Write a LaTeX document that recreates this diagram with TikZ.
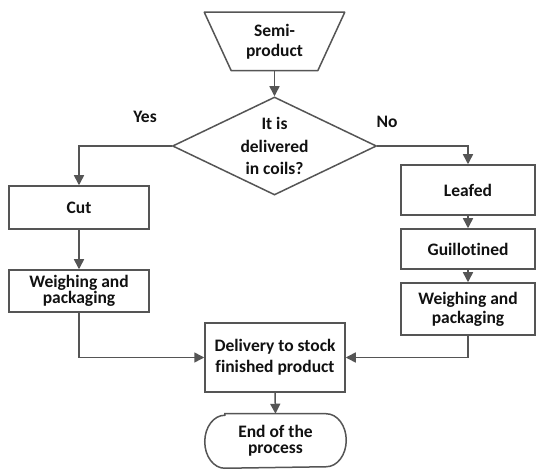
\documentclass[tikz,border=0pt]{standalone}
\usepackage{fontspec}
\setmainfont[Ligatures=NoCommon]{Carlito}
\usetikzlibrary{shapes.geometric,arrows.meta}
\definecolor{edge}{HTML}{555555}
\definecolor{ink}{HTML}{111111}
\tikzset{
  base/.style={line width=1.5pt, draw=edge, text=ink, font=\bfseries\fontsize{17.5}{20}\selectfont, align=center, inner sep=0pt},
  lead/.style={font=\bfseries\fontsize{17.5}{#1}\selectfont},
  procbox/.style={base, rectangle, minimum width=140pt},
  arr/.style={line width=1.5pt, draw=edge, -{Triangle[length=10pt,width=10pt]}},
  plain/.style={line width=1.5pt, draw=edge},
  lbl/.style={text=ink, font=\bfseries\fontsize{17.5}{20}\selectfont}
}
\begin{document}
\begin{tikzpicture}[x=1pt,y=-1pt]
\useasboundingbox (0,0) rectangle (536,470);
\fill[white] (0,0) rectangle (536,470);

% input: inverted trapezoid
\node[base, lead=20, draw=none, minimum width=139pt, minimum height=57pt] (semi) at (274.5,41.5)
  {Semi-\\product};
\draw[plain, line join=round] (semi.north west) -- (semi.north east)
  -- ([xshift=-27pt]semi.south east) -- ([xshift=27pt]semi.south west) -- cycle;

% decision
\node[base, lead=22.5, diamond, minimum width=204pt, minimum height=98pt, aspect=2.08] (dec) at (274.5,146)
  {It is\\delivered\\in coils?};
\node[lbl] (yes) at (145,117) {Yes};
\node[lbl] (no) at (387,122) {No};

% left branch
\node[procbox, minimum height=43pt] (cut) at (79,207.5) {Cut};
\node[procbox, lead=16.5, minimum height=42pt] (wl) at (79,291) {Weighing and\\packaging};

% right branch
\node[procbox, minimum width=134pt, minimum height=50pt] (leaf) at (468,190) {Leafed};
\node[procbox, minimum width=134pt, minimum height=40pt] (guil) at (468,249) {Guillotined};
\node[procbox, lead=19, minimum width=134pt, minimum height=52pt] (wr) at (468,309) {Weighing and\\packaging};

% merge and end
\node[procbox, lead=21, minimum height=69pt] (deliv) at (275,357.5) {Delivery to stock\\finished product};
\node[base, lead=16, draw=none, minimum width=140pt, minimum height=53pt] (endp) at (275.5,441)
  {End of the\\process};
\draw[plain] ([xshift=20pt]endp.north west) -- ([xshift=-20pt]endp.north east)
  arc[start angle=-90, end angle=90, x radius=20pt, y radius=-26.5pt]
  -- ([xshift=20pt]endp.south west)
  arc[start angle=90, end angle=270, x radius=20pt, y radius=-26.5pt] -- cycle;

% connectors
\draw[arr] (semi.south) -- (dec.north);
\draw[arr] (dec.west) -| (cut.north);
\draw[arr] (dec.east) -| (leaf.north);
\draw[arr] (cut.south) -- (wl.north);
\draw[arr] (leaf.south) -- (guil.north);
\draw[arr] (guil.south) -- (wr.north);
\draw[arr] (wl.south) |- (deliv.west);
\draw[arr] (wr.south) |- (deliv.east);
\draw[arr] (deliv.south) -- (endp.north);
\end{tikzpicture}
\end{document}
